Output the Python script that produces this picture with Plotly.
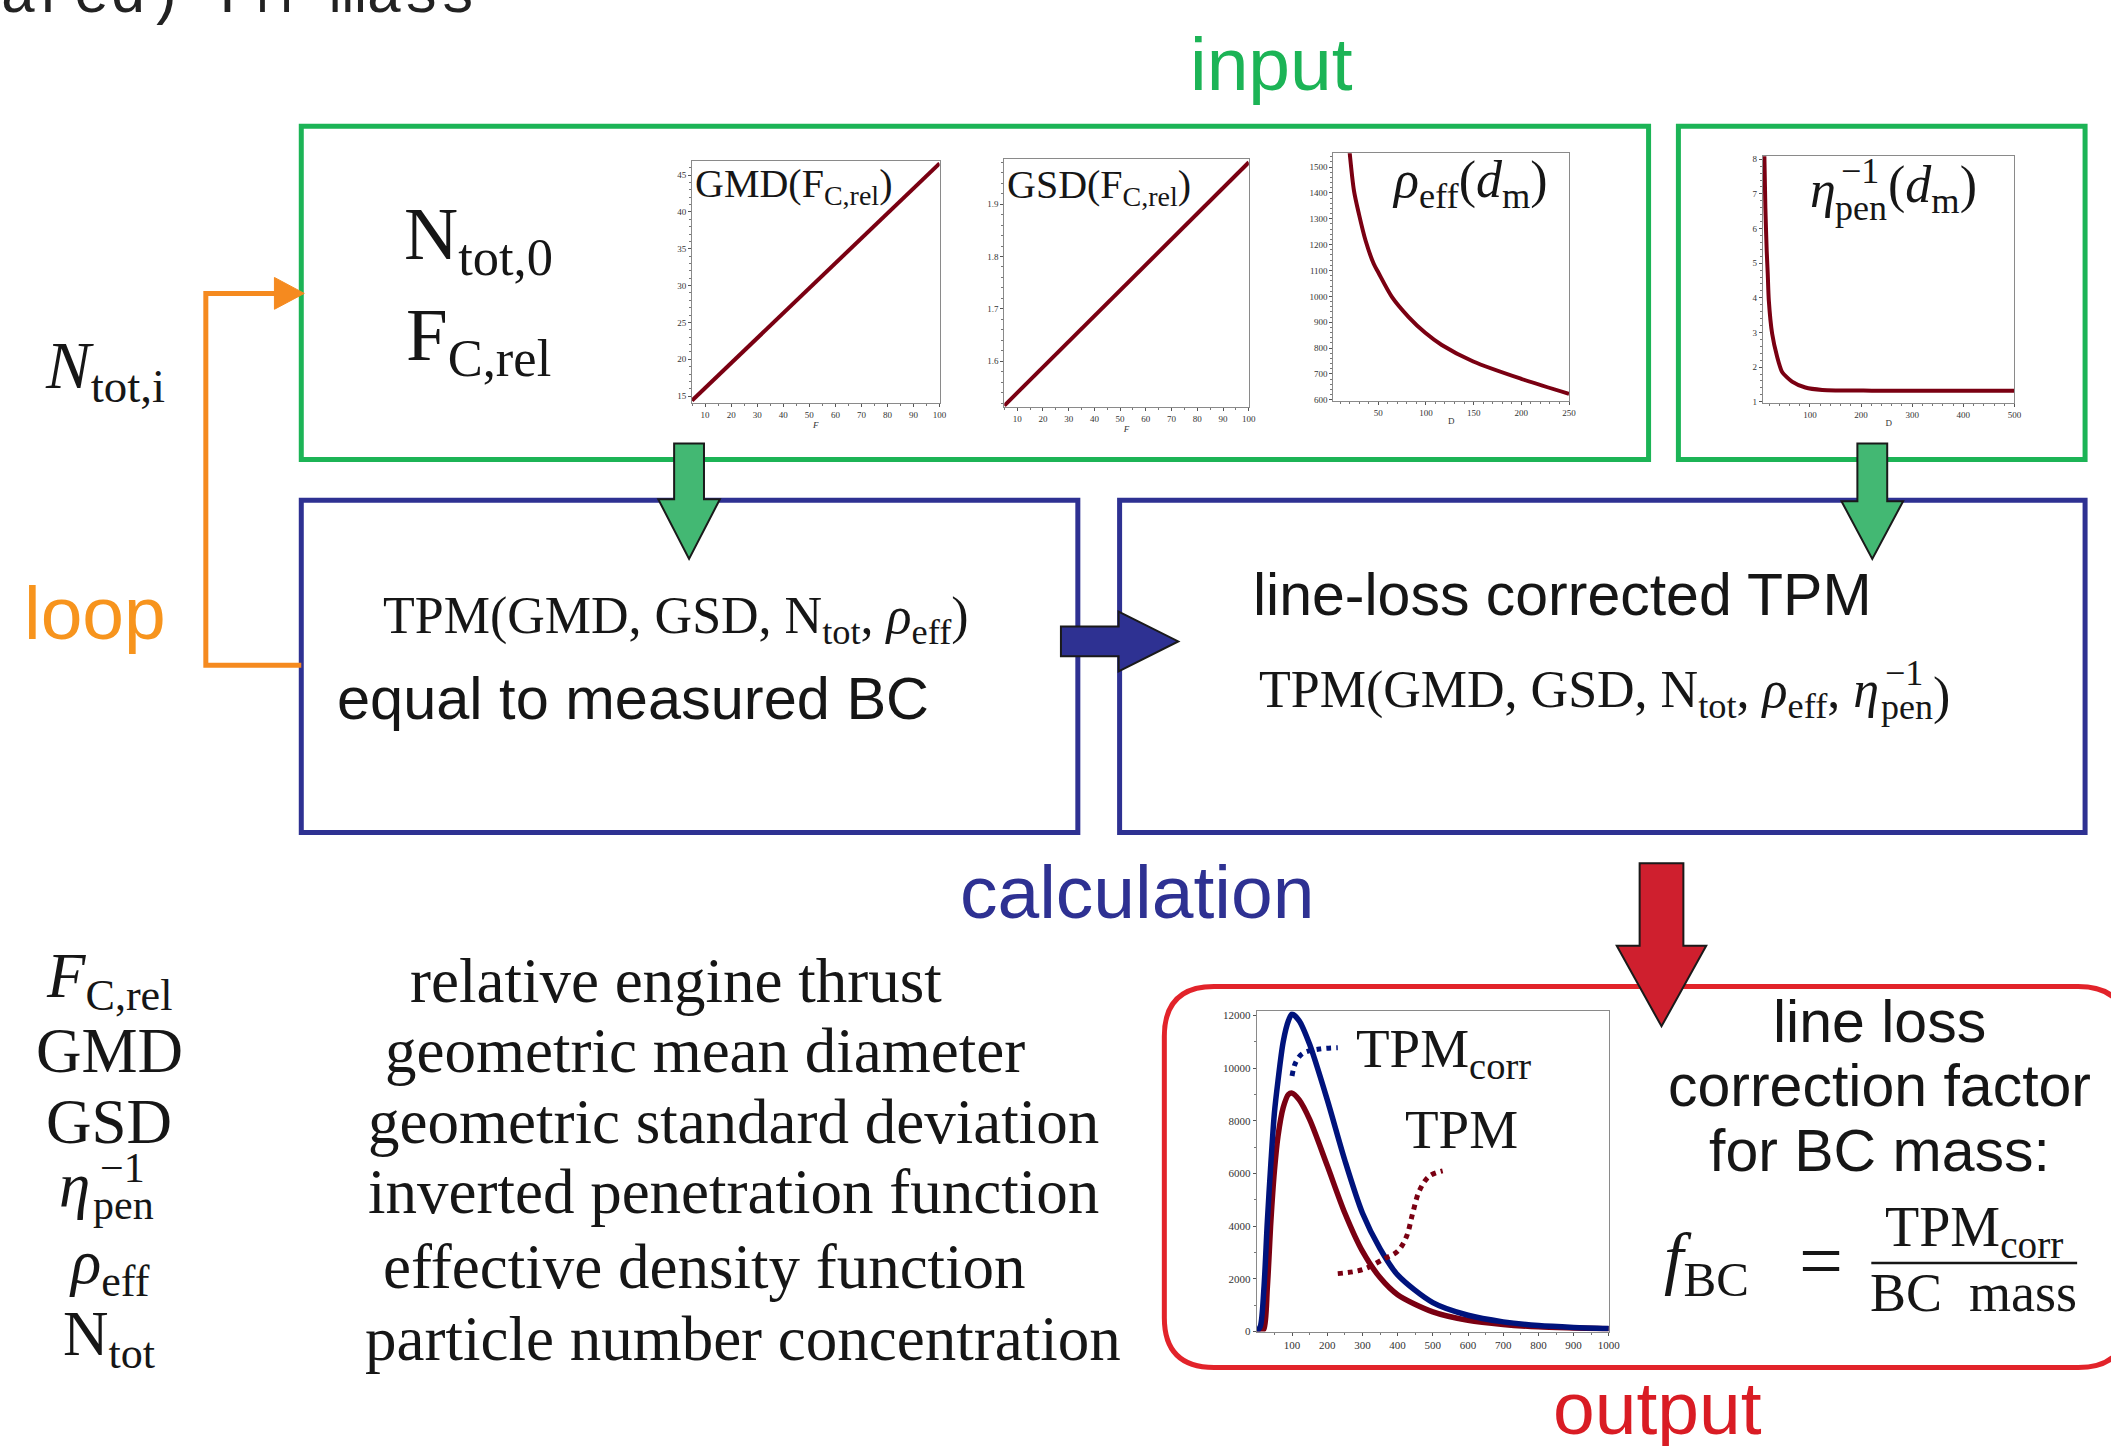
import plotly.graph_objects as go

W, H = 2111, 1446

# ---------------- data ----------------
thrust_rel = [5, 100]
gmd_nm = [14.4, 46.6]
gsd_vals = [1.515, 1.98]

rho_d = [20.1, 24.6, 29.8, 36.8, 45.4, 50, 64.5, 81.9, 99.3, 116.6, 149.6, 199.9, 250]
rho_eff = [1555, 1408, 1318, 1215, 1125, 1093, 997, 920, 859, 812, 748, 681, 623]

pen_d = [10.8, 12.8, 15.4, 17.4, 19.5, 26, 35.8, 45.5, 65, 91, 124, 221, 500]
pen_inv = [8.14, 6.6, 5.36, 4.7, 3.93, 2.97, 2.3, 1.86, 1.58, 1.41, 1.34, 1.32, 1.32]

tpm_d = [0, 10, 20, 30, 40, 50, 60, 75, 90, 100, 120, 150, 200, 250, 300, 350, 400,
         500, 600, 700, 800, 900, 1000]
tpm_corr = [0, 200, 1600, 4200, 6400, 8300, 9500, 11000, 11800, 12050, 11800, 10900,
            8800, 6500, 4500, 3150, 2150, 1100, 620, 370, 230, 160, 120]
tpm_raw = [0, 0, 100, 1700, 4200, 6100, 7400, 8500, 9000, 9050, 8800, 8050, 6300,
           4500, 3050, 2050, 1400, 750, 430, 270, 180, 140, 110]

lead_corr_x = [100, 110, 130, 178, 230]
lead_corr_y = [9700, 10200, 10550, 10720, 10770]
lead_raw_x = [230, 300, 360, 400, 425, 443, 462, 490, 528]
lead_raw_y = [2200, 2350, 2750, 3050, 3600, 4500, 5350, 5900, 6100]

legend_symbols = ["<i>F</i><sub>C,rel</sub>", "GMD", "GSD", None,
                  "<i>ρ</i><sub>eff</sub>", "N<sub>tot</sub>"]
legend_texts = ["relative engine thrust", "geometric mean diameter",
                "geometric standard deviation", "inverted penetration function",
                "effective density function", "particle number concentration"]

# ---------------- styling ----------------
SERIF = "Liberation Serif, DejaVu Serif, serif"
SANS = "Liberation Sans, Arial, Helvetica, sans-serif"
MONO = "Courier New, Liberation Mono, monospace"

GREEN = "#1cb456"
BLUE = "#2e3192"
RED = "#e2232a"
ORANGE = "#f58a1f"
ARROW_GREEN = "#43b873"
ARROW_RED = "#cf1f2e"
CURVE_RED = "#7a0012"
CURVE_BLUE = "#00137c"
INK = "#161616"


def px(x):
    return x / W


def py(y):
    return 1 - y / H


annotations = []
shapes = []


def text(x, y, s, size, color=INK, family=SERIF, xanchor="center", yanchor="middle"):
    annotations.append(dict(x=px(x), y=py(y), xref="paper", yref="paper", text=s,
                            showarrow=False, xanchor=xanchor, yanchor=yanchor,
                            font=dict(size=size, color=color, family=family)))


def rect(x0, y0, x1, y1, color, width):
    shapes.append(dict(type="rect", xref="paper", yref="paper", x0=px(x0), x1=px(x1),
                       y0=py(y1), y1=py(y0), line=dict(color=color, width=width),
                       fillcolor="rgba(0,0,0,0)", layer="above"))


def path(points, fill=None, color="#1a1a1a", width=2, closed=True):
    d = "M " + " L ".join(f"{px(x):.5f},{py(y):.5f}" for x, y in points)
    if closed:
        d += " Z"
    shapes.append(dict(type="path", xref="paper", yref="paper", path=d,
                       fillcolor=fill if fill else "rgba(0,0,0,0)",
                       line=dict(color=color, width=width), layer="above"))


def arrow_down(cx, top, head_top, tip, shaft_half, head_half, fill):
    path([(cx - shaft_half, top), (cx + shaft_half, top), (cx + shaft_half, head_top),
          (cx + head_half, head_top), (cx, tip), (cx - head_half, head_top),
          (cx - shaft_half, head_top)], fill=fill)


def arrow_right(left, head_left, tip, cy, shaft_half, head_half, fill):
    path([(left, cy - shaft_half), (head_left, cy - shaft_half), (head_left, cy - head_half),
          (tip, cy), (head_left, cy + head_half), (head_left, cy + shaft_half),
          (left, cy + shaft_half)], fill=fill)


def rounded_rect(x0, y0, x1, y1, r, color, width):
    def p(x, y):
        return f"{px(x):.5f},{py(y):.5f}"
    d = (f"M {p(x0 + r, y0)} L {p(x1 - r, y0)} Q {p(x1, y0)} {p(x1, y0 + r)} "
         f"L {p(x1, y1 - r)} Q {p(x1, y1)} {p(x1 - r, y1)} L {p(x0 + r, y1)} "
         f"Q {p(x0, y1)} {p(x0, y1 - r)} L {p(x0, y0 + r)} Q {p(x0, y0)} {p(x0 + r, y0)} Z")
    shapes.append(dict(type="path", xref="paper", yref="paper", path=d,
                       fillcolor="rgba(0,0,0,0)", line=dict(color=color, width=width),
                       layer="above"))


# ---------------- boxes ----------------
rect(303, 125, 1658, 460, GREEN, 5)
rect(1688, 125, 2097, 460, GREEN, 5)
rect(303, 501, 1084, 835, BLUE, 5)
rect(1126, 501, 2097, 835, BLUE, 5)
rounded_rect(1171, 990, 2140, 1373, 50, RED, 5)

# loop connector
path([(303, 667), (207, 667), (207, 293), (278, 293)], color=ORANGE, width=5, closed=False)
path([(276, 277), (306, 293), (276, 309)], fill=ORANGE, color=ORANGE, width=1)

# flow arrows
arrow_down(693, 444, 500, 560, 15, 31, ARROW_GREEN)
arrow_down(1883, 444, 502, 560, 15, 31, ARROW_GREEN)
arrow_right(1067, 1125, 1185, 643, 15, 30, BLUE)
arrow_down(1671, 866, 949, 1030, 22, 45, ARROW_RED)

# fraction bar
shapes.append(dict(type="line", xref="paper", yref="paper", x0=px(1882), x1=px(2089),
                   y0=py(1268), y1=py(1268), line=dict(color=INK, width=2.5), layer="above"))

# ---------------- plots ----------------
fig = go.Figure()


def axis(domain, anchor, rng, tick0, dtick, fs=9, title=None, minor_dtick=None):
    d = dict(domain=domain, anchor=anchor, range=rng, tickmode="linear", tick0=tick0,
             dtick=dtick, showline=True, linecolor="#8a8a8a", linewidth=1, mirror=True,
             ticks="outside", ticklen=3, tickwidth=1, tickcolor="#555",
             tickfont=dict(size=fs, family=SERIF, color="#333"), showgrid=False,
             zeroline=False, fixedrange=True, tickformat="")
    if minor_dtick:
        d["minor"] = dict(ticks="outside", ticklen=2, dtick=minor_dtick, tickcolor="#777")
    if title:
        d["title"] = dict(text=title, font=dict(size=9, family=SERIF, color="#333"), standoff=1)
    return d


def dom(a, b, total):
    return [a / total, b / total]


def ydom(top, bottom):
    return [1 - bottom / H, 1 - top / H]


layout_axes = {}
# GMD(F)
layout_axes["xaxis"] = axis(dom(696, 945, W), "y", [5, 100], 10, 10, title="<i>F</i>", minor_dtick=5)
layout_axes["yaxis"] = axis(ydom(160, 403), "x", [14.1, 46.9], 15, 5, minor_dtick=1)
# GSD(F)
layout_axes["xaxis2"] = axis(dom(1010, 1256, W), "y2", [5, 100], 10, 10, title="<i>F</i>", minor_dtick=5)
layout_axes["yaxis2"] = axis(ydom(158, 407), "x2", [1.513, 1.986], 1.6, 0.1, minor_dtick=0.02)
# rho_eff(d)
layout_axes["xaxis3"] = axis(dom(1341, 1578, W), "y3", [3, 250], 50, 50, title="D", minor_dtick=10)
layout_axes["yaxis3"] = axis(ydom(152, 401), "x3", [596, 1554], 600, 100, minor_dtick=20)
# eta_pen^-1(d)
layout_axes["xaxis4"] = axis(dom(1773, 2026, W), "y4", [8, 500], 100, 100, title="D", minor_dtick=20)
layout_axes["yaxis4"] = axis(ydom(155, 403), "x4", [0.97, 8.09], 1, 1, minor_dtick=0.2)
# TPM
layout_axes["xaxis5"] = axis(dom(1264, 1618, W), "y5", [0, 1000], 100, 100, fs=11)
layout_axes["xaxis5"]["tickmode"] = "array"
layout_axes["xaxis5"]["tickvals"] = list(range(100, 1001, 100))
layout_axes["xaxis5"]["minor"] = dict(ticks="outside", ticklen=2, tickcolor="#777",
                                      tickvals=list(range(50, 1000, 100)))
layout_axes["yaxis5"] = axis(ydom(1015, 1337), "x5", [0, 12150], 0, 2000, fs=11, minor_dtick=1000)
layout_axes["yaxis5"]["tickformat"] = "d"

fig.add_trace(go.Scatter(x=thrust_rel, y=gmd_nm, mode="lines", xaxis="x", yaxis="y",
                         line=dict(color=CURVE_RED, width=4)))
fig.add_trace(go.Scatter(x=thrust_rel, y=gsd_vals, mode="lines", xaxis="x2", yaxis="y2",
                         line=dict(color=CURVE_RED, width=4)))
fig.add_trace(go.Scatter(x=rho_d, y=rho_eff, mode="lines", xaxis="x3", yaxis="y3",
                         line=dict(color=CURVE_RED, width=4, shape="spline", smoothing=0.8)))
fig.add_trace(go.Scatter(x=pen_d, y=pen_inv, mode="lines", xaxis="x4", yaxis="y4",
                         line=dict(color=CURVE_RED, width=4, shape="spline", smoothing=0.6)))
fig.add_trace(go.Scatter(x=tpm_d, y=tpm_raw, mode="lines", xaxis="x5", yaxis="y5",
                         line=dict(color=CURVE_RED, width=5.5, shape="spline", smoothing=0.8)))
fig.add_trace(go.Scatter(x=tpm_d, y=tpm_corr, mode="lines", xaxis="x5", yaxis="y5",
                         line=dict(color=CURVE_BLUE, width=5.5, shape="spline", smoothing=0.8)))
fig.add_trace(go.Scatter(x=lead_corr_x, y=lead_corr_y, mode="lines", xaxis="x5", yaxis="y5",
                         line=dict(color=CURVE_BLUE, width=5, dash="dot", shape="spline")))
fig.add_trace(go.Scatter(x=lead_raw_x, y=lead_raw_y, mode="lines", xaxis="x5", yaxis="y5",
                         line=dict(color=CURVE_RED, width=5, dash="dot", shape="spline")))

# ---------------- text ----------------
text(-2, -7, "ared) PM mass", 61, "#222", MONO, xanchor="left")

text(1279, 62, "input", 75, GREEN, SANS)
text(1144, 895, "calculation", 75, BLUE, SANS)
text(1667, 1414, "output", 75, "#d91c24", SANS)
text(96, 614, "loop", 75, "#f7941d", SANS)

text(43, 370, "<i>N</i><sub>tot,i</sub>", 67, xanchor="left")
text(404, 238, "N<sub>tot,0</sub>", 75, xanchor="left")
text(406, 340, "F<sub>C,rel</sub>", 75, xanchor="left")

# plot titles
text(697, 185, "GMD(F<sub>C,rel</sub>)", 40, xanchor="left")
text(1011, 186, "GSD(F<sub>C,rel</sub>)", 40, xanchor="left")
text(1398, 183, "<i>ρ</i><sub>eff</sub>(<i>d</i><sub>m</sub>)", 52, xanchor="left")
text(1833, 189, "<i>η</i>", 52)
text(1871, 170, "−1", 36)
text(1872, 207, "pen", 36)
text(1897, 188, "(<i>d</i><sub>m</sub>)", 52, xanchor="left")

# calculation boxes
text(680, 621, "TPM(GMD, GSD, N<sub>tot</sub>, <i>ρ</i><sub>eff</sub>)", 52)
text(637, 700, "equal to measured BC", 59.5, INK, SANS)
text(1571, 596, "line-loss corrected TPM", 59, INK, SANS)
text(1892, 695, "TPM(GMD, GSD, N<sub>tot</sub>, <i>ρ</i><sub>eff</sub>, <i>η</i>", 52,
     xanchor="right")
text(1915, 675, "−1", 36)
text(1918, 709, "pen", 36)
text(1963, 698, ")", 52, xanchor="right")

# output box
text(1890, 1026, "line loss", 59, INK, SANS)
text(1890, 1090, "correction factor", 59, INK, SANS)
text(1890, 1155, "for BC mass:", 59, INK, SANS)
text(1672, 1268, "<i>f</i><sub>BC</sub>", 70, xanchor="left")
text(1831, 1266, "=", 78)
text(1985, 1236, "TPM<sub>corr</sub>", 56)
text(1985, 1298, "BC  mass", 54)
text(1362, 1056, "TPM<sub>corr</sub>", 55, xanchor="left")
text(1411, 1134, "TPM", 55, xanchor="left")

# symbol list
row_y = [984, 1055, 1126, 1197, 1272, 1344]
desc_x = [680, 709, 738, 738, 709, 747]
for sym, desc, y, dx in zip(legend_symbols, legend_texts, row_y, desc_x):
    if sym is not None:
        text(110, y, sym, 63)
    text(dx, y, desc, 63)
text(75, 1190, "<i>η</i>", 63)
text(123, 1172, "−1", 42)
text(124, 1210, "pen", 42)

fig.update_layout(
    width=W, height=H, margin=dict(l=0, r=0, t=0, b=0),
    paper_bgcolor="white", plot_bgcolor="white", showlegend=False,
    annotations=annotations, shapes=shapes, **layout_axes,
)

fig.write_html("out.html")
